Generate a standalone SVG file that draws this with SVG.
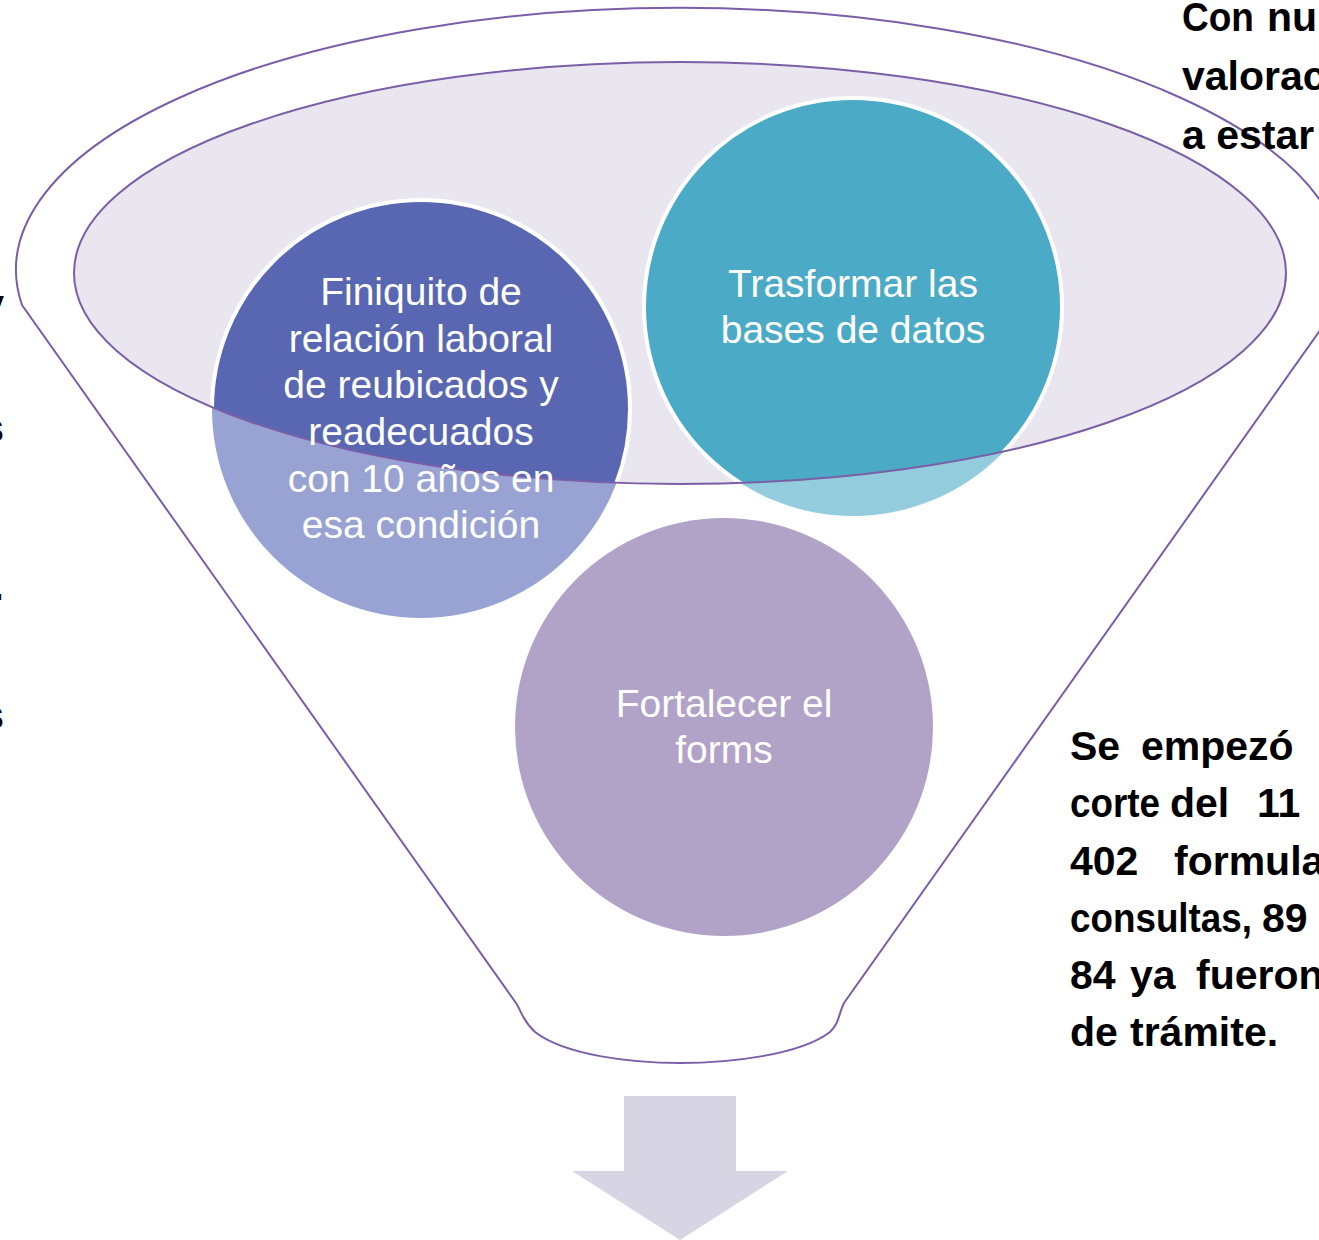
<svg xmlns="http://www.w3.org/2000/svg" width="1319" height="1240" viewBox="0 0 1319 1240">
<style>
.ctext{font-family:"Liberation Sans",Arial,sans-serif;font-size:39px;fill:#FFFFFF;text-anchor:middle}
.btext{font-family:"Liberation Sans",Arial,sans-serif;font-size:41px;font-weight:bold;fill:#000000}
.ring{stroke:#FFFFFF;stroke-width:4}
.outline{fill:none;stroke:#7B5EA8;stroke-width:2}
</style>
<defs>
<clipPath id="inner"><ellipse cx="680" cy="273" rx="606" ry="211"/></clipPath>
</defs>
<rect x="0" y="0" width="1319" height="1240" fill="#FFFFFF"/>

<g id="funnel">
<path d="M 22,305 A 664 262 0 1 1 1338,305 L 844,1003 C 838,1015 840,1022 830,1032 C 800,1055 730,1063 680,1063 C 630,1063 565,1055 535,1032 C 522,1020 522,1012 516,1003 Z" fill="#FFFFFF" stroke="#7B5EA8" stroke-width="2"/>
<ellipse cx="680" cy="273" rx="606" ry="211" fill="#E9E6EF"/>
</g>

<g id="node-finiquito">
<circle cx="421" cy="409" r="209" fill="#99A3D3"/>
<circle cx="421" cy="409" r="209" fill="#5967B2" class="ring" clip-path="url(#inner)"/>
</g>
<g id="node-trasformar">
<circle cx="853" cy="307" r="209" fill="#93CDDD"/>
<circle cx="853" cy="307" r="209" fill="#4BABC6" class="ring" clip-path="url(#inner)"/>
</g>
<g id="node-fortalecer">
<circle cx="724" cy="727" r="209" fill="#B1A2C8"/>
</g>

<g id="connectors">
<ellipse cx="680" cy="273" rx="606" ry="211" class="outline"/>
</g>

<g id="labels">
<text class="ctext" x="421" y="305">Finiquito de</text>
<text class="ctext" x="421" y="352">relación laboral</text>
<text class="ctext" x="421" y="398">de reubicados y</text>
<text class="ctext" x="421" y="445">readecuados</text>
<text class="ctext" x="421" y="492">con 10 años en</text>
<text class="ctext" x="421" y="538">esa condición</text>

<text class="ctext" x="853" y="297">Trasformar las</text>
<text class="ctext" x="853" y="343">bases de datos</text>

<text class="ctext" x="724" y="717">Fortalecer el</text>
<text class="ctext" x="724" y="763">forms</text>
</g>

<g id="arrow">
<path d="M 624,1096 L 736,1096 L 736,1171 L 788,1171 L 680,1240 L 572,1171 L 624,1171 Z" fill="#D7D4E3"/>
</g>

<g id="text-top-right">
<text class="btext" x="1182" y="31" textLength="72" lengthAdjust="spacingAndGlyphs">Con</text>
<text class="btext" x="1267" y="31">nu</text>
<text class="btext" x="1182" y="90">valorac</text>
<text class="btext" x="1182" y="149">a estar</text>
</g>

<g id="text-bottom-right">
<text class="btext" x="1070" y="760">Se</text>
<text class="btext" x="1141" y="760">empezó</text>
<text class="btext" x="1070" y="817" textLength="90" lengthAdjust="spacingAndGlyphs">corte</text>
<text class="btext" x="1170" y="817">del</text>
<text class="btext" x="1257" y="817">11</text>
<text class="btext" x="1070" y="875">402</text>
<text class="btext" x="1174" y="875">formula</text>
<text class="btext" x="1070" y="932" textLength="182" lengthAdjust="spacingAndGlyphs">consultas,</text>
<text class="btext" x="1262" y="932">89</text>
<text class="btext" x="1070" y="989">84</text>
<text class="btext" x="1130" y="989">ya</text>
<text class="btext" x="1196" y="989">fueron</text>
<text class="btext" x="1070" y="1046">de</text>
<text class="btext" x="1130" y="1046">trámite.</text>
</g>

<g id="text-left-clipped">
<text class="btext" x="4" y="318" text-anchor="end">y</text>
<text class="btext" x="4" y="442" text-anchor="end">s</text>
<text class="btext" x="4" y="600" text-anchor="end">.</text>
<text class="btext" x="4" y="729" text-anchor="end">s</text>
</g>
</svg>
